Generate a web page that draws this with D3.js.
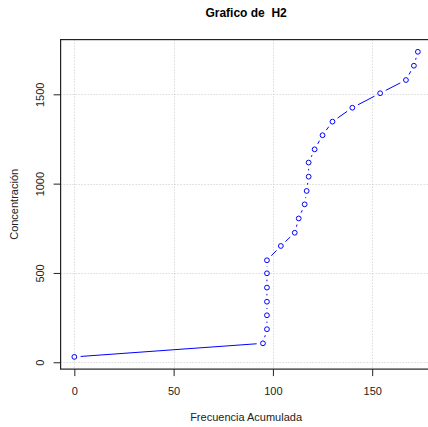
<!DOCTYPE html>
<html>
<head>
<meta charset="utf-8">
<script src="https://cdn.jsdelivr.net/npm/d3@7"></script>
<style>
  body { margin: 0; background: #fff; }
  svg { display: block; font-family: "Liberation Sans", Arial, sans-serif; }
</style>
</head>
<body>
<div id="chart"></div>
<script>
// cumulative frequency (x) vs concentration (y)
const frecuencia = [0, 95, 97, 97, 97, 97, 97, 97, 104, 111, 113, 116, 117, 118, 118, 121, 125, 130, 140, 154, 167, 171, 173]
const concentracion = [30, 106, 185, 263, 339, 418, 498, 571, 651, 725, 805, 884, 959, 1039, 1118, 1192, 1271, 1347, 1425, 1506, 1580, 1660, 1738]
const xTicks = [0, 50, 100, 150]
const yTicks = [0, 500, 1000, 1500]

const width = 428
const height = 427
const plot = { left: 60.6, right: 431.6, top: 39.6, bottom: 369.1 }

const points = frecuencia.map((f, i) => ({ x: f, y: concentracion[i] }))

// R style 4% padding on both sides
const pad = ([a, b]) => [a - (b - a) * 0.04, b + (b - a) * 0.04]

const x = d3.scaleLinear()
  .domain(pad(d3.extent(frecuencia)))
  .range([plot.left, plot.right])

const y = d3.scaleLinear()
  .domain(pad(d3.extent(concentracion)))
  .range([plot.bottom, plot.top])

const svg = d3.select('#chart')
  .append('svg')
  .attr('width', width)
  .attr('height', height)

// grid
const grid = svg.append('g').attr('class', 'grid')
  .attr('stroke', '#c8c8c8')
  .attr('stroke-dasharray', '1,2')
grid.selectAll('.gx')
  .data(xTicks)
  .enter()
  .append('line')
  .attr('x1', d => Math.round(x(d)) + 0.5)
  .attr('x2', d => Math.round(x(d)) + 0.5)
  .attr('y1', plot.top)
  .attr('y2', plot.bottom)
grid.selectAll('.gy')
  .data(yTicks)
  .enter()
  .append('line')
  .attr('x1', plot.left)
  .attr('x2', plot.right)
  .attr('y1', d => Math.round(y(d)) + 0.5)
  .attr('y2', d => Math.round(y(d)) + 0.5)

// line segments with a gap round each point (type = "b")
const gap = 6.3
const segments = []
for (let i = 0; i < points.length - 1; i++) {
  const x0 = x(points[i].x), y0 = y(points[i].y)
  const x1 = x(points[i + 1].x), y1 = y(points[i + 1].y)
  const len = Math.hypot(x1 - x0, y1 - y0)
  if (len <= 2 * gap) continue
  const ux = (x1 - x0) / len, uy = (y1 - y0) / len
  segments.push([x0 + ux * gap, y0 + uy * gap, x1 - ux * gap, y1 - uy * gap])
}
svg.append('g')
  .attr('class', 'lines')
  .selectAll('line')
  .data(segments)
  .enter()
  .append('line')
  .attr('x1', d => d[0])
  .attr('y1', d => d[1])
  .attr('x2', d => d[2])
  .attr('y2', d => d[3])
  .attr('stroke', '#0000ff')
  .attr('stroke-width', 1)

svg.append('g')
  .attr('class', 'points')
  .selectAll('circle')
  .data(points)
  .enter()
  .append('circle')
  .attr('cx', d => x(d.x))
  .attr('cy', d => y(d.y))
  .attr('r', 2.4)
  .attr('fill', 'none')
  .attr('stroke', '#0000ff')
  .attr('stroke-width', 1)

// axes
const xAxis = d3.axisBottom(x).tickValues(xTicks).tickFormat(d3.format('d')).tickSize(7)
const yAxis = d3.axisLeft(y).tickValues(yTicks).tickFormat(d3.format('d')).tickSize(7)

const gx = svg.append('g')
  .attr('class', 'x-axis')
  .attr('transform', `translate(0, ${plot.bottom})`)
  .call(xAxis)
gx.select('.domain').remove()
gx.selectAll('text')
  .attr('font-size', 11)
  .attr('fill', '#222')
  .attr('dy', null)
  .attr('y', 25.5)

const gy = svg.append('g')
  .attr('class', 'y-axis')
  .attr('transform', `translate(${plot.left}, 0)`)
  .call(yAxis)
gy.select('.domain').remove()
gy.selectAll('text')
  .attr('font-size', 11)
  .attr('fill', '#222')
  .attr('x', null)
  .attr('dy', null)
  .attr('text-anchor', 'middle')
  .attr('transform', 'translate(-16.5, 0) rotate(-90)')

svg.selectAll('.tick line').attr('stroke', '#222')

// box
svg.append('rect')
  .attr('x', plot.left)
  .attr('y', plot.top)
  .attr('width', plot.right - plot.left)
  .attr('height', plot.bottom - plot.top)
  .attr('fill', 'none')
  .attr('stroke', '#222')
  .attr('stroke-width', 1.2)

// titles
svg.append('text')
  .attr('x', (plot.left + plot.right) / 2)
  .attr('y', 17.3)
  .attr('text-anchor', 'middle')
  .attr('font-size', 12)
  .attr('font-weight', 'bold')
  .style('white-space', 'pre')
  .text('Grafico de  H2')

svg.append('text')
  .attr('x', (plot.left + plot.right) / 2)
  .attr('y', 421)
  .attr('text-anchor', 'middle')
  .attr('font-size', 11)
  .attr('fill', '#222')
  .text('Frecuencia Acumulada')

svg.append('text')
  .attr('transform', `translate(18, ${(plot.top + plot.bottom) / 2}) rotate(-90)`)
  .attr('text-anchor', 'middle')
  .attr('font-size', 11)
  .attr('fill', '#222')
  .text('Concentración')
</script>
</body>
</html>
